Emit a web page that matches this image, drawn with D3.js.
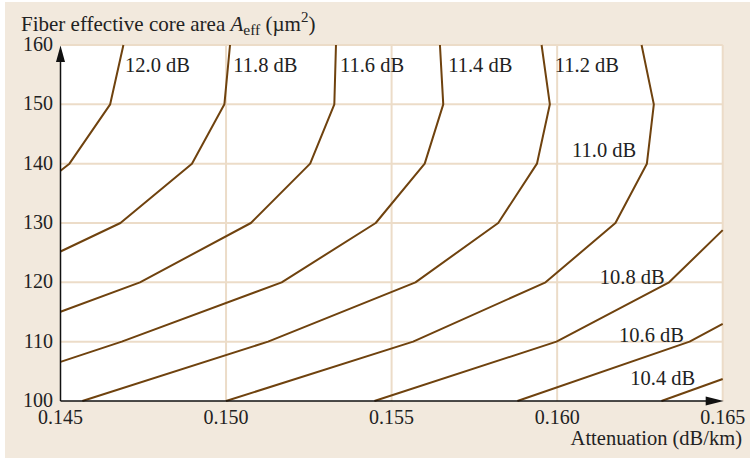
<!DOCTYPE html>
<html>
<head>
<meta charset="utf-8">
<script src="https://cdn.jsdelivr.net/npm/d3@7.9.0/dist/d3.min.js"></script>
<style>
  body { margin: 0; background: #fff; }
  svg { display: block; font-family: "Liberation Serif", "Times New Roman", serif; }
</style>
</head>
<body>
<svg id="chart" width="750" height="459"></svg>
<script>
// axis ticks
const xTicks = [0.145, 0.150, 0.155, 0.160, 0.165];
const yTicks = [100, 110, 120, 130, 140, 150, 160];

// contour lines: [attenuation dB/km, Aeff um^2]
const c120 = [[0.1469, 160], [0.1465, 150], [0.14527, 140], [0.145, 138.8]];
const c118 = [[0.15012, 160], [0.14995, 150], [0.14897, 140], [0.14681, 130], [0.145, 125.2]];
const c116 = [[0.15332, 160], [0.15327, 150], [0.15254, 140], [0.15075, 130], [0.1474, 120], [0.145, 115.05]];
const c114 = [[0.15646, 160], [0.15656, 150], [0.156, 140], [0.15452, 130], [0.15168, 120], [0.14685, 110], [0.145, 106.6]];
const c112 = [[0.15953, 160], [0.15978, 150], [0.15939, 140], [0.15822, 130], [0.15572, 120], [0.15127, 110], [0.14566, 100]];
const c110 = [[0.16255, 160], [0.16292, 150], [0.16271, 140], [0.16176, 130], [0.15965, 120], [0.15565, 110], [0.15, 100]];
const c108 = [[0.165, 128.8], [0.16338, 120], [0.15998, 110], [0.15448, 100]];
const c106 = [[0.165, 113.0], [0.164, 110], [0.1588, 100]];
const c104 = [[0.165, 103.7], [0.16315, 100]];

const contours = [c120, c118, c116, c114, c112, c110, c108, c106, c104];
const contourNames = ["12.0 dB", "11.8 dB", "11.6 dB", "11.4 dB", "11.2 dB", "11.0 dB", "10.8 dB", "10.6 dB", "10.4 dB"];
// where each label sits (start of text, baseline)
const labelAt = [[0.14695, 155.45], [0.15022, 155.45], [0.15344, 155.45], [0.15671, 155.45], [0.15993, 155.45],
                 [0.16045, 141.2], [0.16129, 119.8], [0.16187, 110.0], [0.16221, 102.7]];

const svg = d3.select('#chart');
const x = d3.scaleLinear().domain([0.145, 0.165]).range([60.5, 722.7]);
const y = d3.scaleLinear().domain([100, 160]).range([401, 45]);

const beige = '#f2e9dd';
const grid = '#ecdcc8';
const brown = '#6f420e';

svg.append('rect').attr('x', 5).attr('y', 2).attr('width', 745).attr('height', 456).attr('fill', beige);

// plot area
svg.append('rect')
    .attr('x', x(0.145)).attr('y', y(160))
    .attr('width', x(0.165) - x(0.145)).attr('height', y(100) - y(160))
    .attr('fill', '#fff');

// grid
svg.append('g').selectAll('line').data(xTicks.slice(1)).join('line')
    .attr('x1', d => x(d)).attr('x2', d => x(d))
    .attr('y1', y(100)).attr('y2', y(160))
    .attr('stroke', grid).attr('stroke-width', 2);
svg.append('g').selectAll('line').data(yTicks.slice(1)).join('line')
    .attr('x1', x(0.145)).attr('x2', x(0.165))
    .attr('y1', d => y(d)).attr('y2', d => y(d))
    .attr('stroke', grid).attr('stroke-width', 2);

// contours
const line = d3.line().x(d => x(d[0])).y(d => y(d[1]));
svg.append('g').selectAll('path').data(contours).join('path')
    .attr('d', line)
    .attr('fill', 'none')
    .attr('stroke', brown)
    .attr('stroke-width', 2)
    .attr('stroke-linejoin', 'round');

svg.append('g').selectAll('text').data(contourNames).join('text')
    .attr('x', (d, i) => x(labelAt[i][0]))
    .attr('y', (d, i) => y(labelAt[i][1]))
    .attr('font-size', 20.5)
    .attr('fill', '#222')
    .text(d => d);

// axes with arrows
svg.append('line')
    .attr('x1', x(0.145)).attr('x2', x(0.165) - 10)
    .attr('y1', y(100)).attr('y2', y(100))
    .attr('stroke', '#111').attr('stroke-width', 1.5);
svg.append('line')
    .attr('x1', x(0.145)).attr('x2', x(0.145))
    .attr('y1', y(100)).attr('y2', y(160) + 10)
    .attr('stroke', '#111').attr('stroke-width', 1.5);
svg.append('path')
    .attr('d', `M${x(0.165) + 1},${y(100)} L${x(0.165) - 17},${y(100) - 4.5} L${x(0.165) - 17},${y(100) + 4.5}Z`)
    .attr('fill', '#111');
svg.append('path')
    .attr('d', `M${x(0.145)},${y(160) + 0.5} L${x(0.145) - 4.5},${y(160) + 17} L${x(0.145) + 4.5},${y(160) + 17}Z`)
    .attr('fill', '#111');

// tick labels
svg.append('g').selectAll('text').data(xTicks).join('text')
    .attr('x', d => x(d)).attr('y', 424)
    .attr('text-anchor', 'middle')
    .attr('font-size', 20).attr('fill', '#222')
    .text(d => d3.format('.3f')(d));
svg.append('g').selectAll('text').data(yTicks).join('text')
    .attr('x', 53).attr('y', d => y(d))
    .attr('dy', '0.3em')
    .attr('text-anchor', 'end')
    .attr('font-size', 20).attr('fill', '#222')
    .text(d => d);

// axis titles
svg.append('text')
    .attr('x', 742).attr('y', 445)
    .attr('text-anchor', 'end')
    .attr('font-size', 20.5).attr('fill', '#222')
    .text('Attenuation (dB/km)');

const yt = svg.append('text')
    .attr('x', 21).attr('y', 31)
    .attr('font-size', 21).attr('fill', '#222');
yt.append('tspan').text('Fiber effective core area ');
yt.append('tspan').attr('font-style', 'italic').text('A');
yt.append('tspan').attr('font-size', 15.5).attr('dy', 4).text('eff');
yt.append('tspan').attr('dy', -4).text(' (\u00b5m');
yt.append('tspan').attr('font-size', 15).attr('dy', -9).text('2');
yt.append('tspan').attr('dy', 9).text(')');
</script>
</body>
</html>
